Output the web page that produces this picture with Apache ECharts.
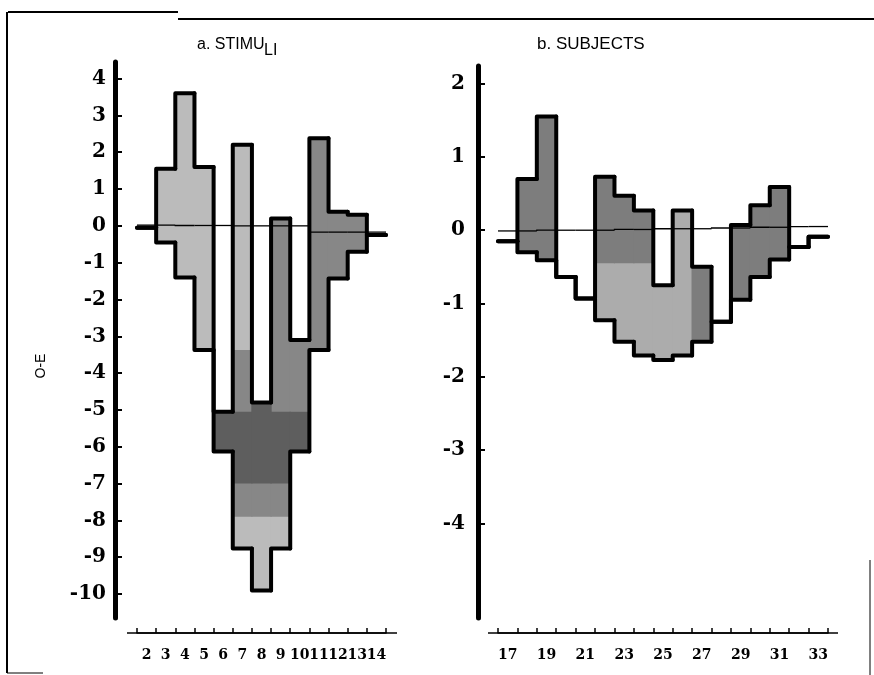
<!DOCTYPE html>
<html><head><meta charset="utf-8">
<script src="https://cdn.jsdelivr.net/npm/echarts@6/dist/echarts.min.js"></script>
<style>html,body{margin:0;padding:0;background:#fff}#c{width:874px;height:675px}</style>
</head><body><div id="c"></div>
<script>
// ---------- Panel a: STIMULI ----------
const catsA = ['2','3','4','5','6','7','8','9','10','11','12','13','14'];
const loA = [-0.05, -0.45, -1.4, -3.37, -6.13, -8.76, -9.9, -8.76, -6.13, -3.37, -1.43, -0.7, -0.25];
const hiA = [-0.05, 1.55, 3.6, 1.6, -5.05, 2.2, -4.8, 0.2, -3.1, 2.38, 0.38, 0.3, -0.25];
const refA = [0.02, 0.02, 0.01, 0.01, 0.01, 0.0, 0.0, 0.0, 0.0, -0.17, -0.17, -0.17, -0.17];
const shadeA1Lo = [null, null, null, null, -6.13, -7.9, -7.9, -7.9, -6.13, -3.37, -1.43, -0.7, null];
const shadeA1Hi = [null, null, null, null, -5.05, -3.37, -4.8, 0.2, -3.1, 2.38, 0.38, 0.3, null];
const shadeA2Lo = [null, null, null, null, -6.13, -7.0, -7.0, -7.0, -6.13, null, null, null, null];
const shadeA2Hi = [null, null, null, null, -5.05, -5.05, -4.8, -5.05, -5.05, null, null, null, null];
const yTicksA = [4, 3, 2, 1, 0, -1, -2, -3, -4, -5, -6, -7, -8, -9, -10];

// ---------- Panel b: SUBJECTS ----------
const catsB = ['17','18','19','20','21','22','23','24','25','26','27','28','29','30','31','32','33'];
const loB = [-0.15, -0.30, -0.41, -0.64, -0.93, -1.23, -1.52, -1.71, -1.77, -1.71, -1.52, -1.25, -0.95, -0.64, -0.40, -0.23, -0.09];
const hiB = [-0.15, 0.70, 1.55, -0.64, -0.93, 0.73, 0.47, 0.27, -0.75, 0.27, -0.50, -1.25, 0.07, 0.34, 0.59, -0.23, -0.09];
const refB = [-0.01, -0.01, 0.0, 0.0, 0.0, 0.0, 0.01, 0.01, 0.02, 0.02, 0.02, 0.03, 0.03, 0.04, 0.04, 0.05, 0.05];
const shadeB1Lo = [null, -0.30, -0.41, null, null, -0.45, -0.45, -0.45, null, null, -1.52, null, -0.95, -0.64, -0.40, null, null];
const shadeB1Hi = [null, 0.70, 1.55, null, null, 0.73, 0.47, 0.27, null, null, -0.50, null, 0.07, 0.34, 0.59, null, null];
const yTicksB = [2, 1, 0, -1, -2, -3, -4];

function fillSeries(ax, lo, hi, color, z) {
  const data = [];
  lo.forEach((l, i) => { if (l != null) data.push([i, l, hi[i]]); });
  return {
    type: 'custom', xAxisIndex: ax, yAxisIndex: ax, z: z, silent: true,
    data: data, encode: { x: 0, y: [1, 2] },
    renderItem(params, api) {
      const i = api.value(0);
      const w = api.size([1, 0])[0];
      const pt = api.coord([i, api.value(2)]);
      const pb = api.coord([i, api.value(1)]);
      return { type: 'rect', shape: { x: pt[0] - w / 2 - 0.6, y: pt[1], width: w + 1.2, height: pb[1] - pt[1] },
        style: { fill: color } };
    }
  };
}

function outlineSeries(ax, lo, hi, width, z) {
  const n = lo.length;
  const data = lo.map((l, i) => [i, l, hi[i], i > 0 ? lo[i - 1] : hi[i], i > 0 ? hi[i - 1] : l, i === n - 1 ? 1 : 0]);
  return {
    type: 'custom', xAxisIndex: ax, yAxisIndex: ax, z: z, silent: true,
    data: data, encode: { x: 0, y: [1, 2] },
    renderItem(params, api) {
      const i = api.value(0), l = api.value(1), h = api.value(2), lp = api.value(3), hp = api.value(4), last = api.value(5);
      const w = api.size([1, 0])[0];
      const cx = api.coord([i, 0])[0];
      const x0 = cx - w / 2, x1 = cx + w / 2;
      const y = v => api.coord([i, v])[1];
      const st = { stroke: '#000', lineWidth: width, fill: null, lineJoin: 'round', lineCap: 'round' };
      const ch = [
        { type: 'polyline', shape: { points: [[x0, y(hp)], [x0, y(h)], [x1, y(h)]] }, style: st },
        { type: 'polyline', shape: { points: [[x0, y(lp)], [x0, y(l)], [x1, y(l)]] }, style: st }
      ];
      if (last) ch.push({ type: 'line', shape: { x1: x1, y1: y(l), x2: x1, y2: y(h) }, style: st });
      return { type: 'group', children: ch };
    }
  };
}

function refSeries(ax, vals, z) {
  const data = vals.map((v, i) => [i, v, i > 0 ? vals[i - 1] : v]);
  return {
    type: 'custom', xAxisIndex: ax, yAxisIndex: ax, z: z, silent: true,
    data: data, encode: { x: 0, y: 1 },
    renderItem(params, api) {
      const i = api.value(0), v = api.value(1), p = api.value(2);
      const w = api.size([1, 0])[0];
      const cx = api.coord([i, 0])[0];
      const x0 = cx - w / 2, x1 = cx + w / 2;
      const y = t => api.coord([i, t])[1];
      return { type: 'polyline', shape: { points: [[x0, y(p)], [x0, y(v)], [x1, y(v)]] },
        style: { stroke: '#000', lineWidth: 1.3, fill: null } };
    }
  };
}

const serifLbl = { color: '#000', fontFamily: '"DejaVu Serif", serif', fontWeight: 'bold' };

function xAx(grid, cats, labelInterval) {
  return {
    gridIndex: grid, type: 'category', data: cats, offset: 15, boundaryGap: true,
    axisLine: { show: true, onZero: false, lineStyle: { color: '#000', width: 1.5 } },
    axisTick: { show: true, inside: true, length: 5, interval: 0, alignWithLabel: false, lineStyle: { color: '#000', width: 1.5 } },
    axisLabel: Object.assign({ interval: labelInterval, fontSize: 14, margin: 15 }, serifLbl),
    splitLine: { show: false }
  };
}
function yAx(grid, min, max, ticks, offset, margin) {
  return {
    gridIndex: grid, type: 'value', min: min, max: max, offset: offset,
    axisLine: { show: true, onZero: false, lineStyle: { color: '#000', width: 5, cap: 'round' } },
    axisTick: { show: true, inside: true, length: 7, customValues: ticks, lineStyle: { color: '#000', width: 2 } },
    axisLabel: Object.assign({ customValues: ticks, fontSize: 20, margin: margin }, serifLbl),
    splitLine: { show: false }
  };
}

const chart = echarts.init(document.getElementById('c'), null, { renderer: 'canvas' });
chart.setOption({
  backgroundColor: '#fff',
  animation: false,
  grid: [
    { left: 137, width: 249, top: 62, height: 556, outerBoundsMode: 'none' },
    { left: 498, width: 330, top: 66, height: 552, outerBoundsMode: 'none' }
  ],
  xAxis: [xAx(0, catsA, 0), xAx(1, catsB, 1)],
  yAxis: [yAx(0, -10.65, 4.45, yTicksA, 22, 9), yAx(1, -5.29, 2.24, yTicksB, 20, 13)],
  series: [
    fillSeries(0, loA, hiA, '#bbbbbb', 1),
    fillSeries(0, shadeA1Lo, shadeA1Hi, '#878787', 2),
    fillSeries(0, shadeA2Lo, shadeA2Hi, '#5e5e5e', 3),
    refSeries(0, refA, 4),
    outlineSeries(0, loA, hiA, 4, 5),
    fillSeries(1, loB, hiB, '#acacac', 1),
    fillSeries(1, shadeB1Lo, shadeB1Hi, '#7d7d7d', 2),
    refSeries(1, refB, 4),
    outlineSeries(1, loB, hiB, 4, 5)
  ],
  graphic: [
    { type: 'text', left: 197, top: 37, style: { text: 'a. STIMU', font: '16px "Liberation Sans", Arial, sans-serif', fill: '#000' } },
    { type: 'text', left: 264, top: 43, style: { text: 'LI', font: '16px "Liberation Sans", Arial, sans-serif', fill: '#000' } },
    { type: 'text', left: 537, top: 36, style: { text: 'b. SUBJECTS', font: '17px "Liberation Sans", Arial, sans-serif', fill: '#000' } },
    { type: 'text', x: 41, y: 366, rotation: Math.PI / 2, style: { text: 'O-E', font: '14px "Liberation Sans", Arial, sans-serif', fill: '#000', align: 'center', verticalAlign: 'middle' } },
    // axis-line overhangs of the original x axes
    { type: 'line', shape: { x1: 127, y1: 633, x2: 397, y2: 633 }, style: { stroke: '#000', lineWidth: 1.5 } },
    { type: 'line', shape: { x1: 488, y1: 633, x2: 838, y2: 633 }, style: { stroke: '#000', lineWidth: 1.5 } },
    // frame remnants
    { type: 'line', shape: { x1: 8, y1: 12, x2: 178, y2: 12 }, style: { stroke: '#000', lineWidth: 2 } },
    { type: 'line', shape: { x1: 178, y1: 19, x2: 874, y2: 19 }, style: { stroke: '#000', lineWidth: 2 } },
    { type: 'line', shape: { x1: 7, y1: 12, x2: 7, y2: 673 }, style: { stroke: '#000', lineWidth: 2 } },
    { type: 'line', shape: { x1: 7, y1: 673, x2: 43, y2: 673 }, style: { stroke: '#000', lineWidth: 1 } },
    { type: 'line', shape: { x1: 870, y1: 560, x2: 870, y2: 675 }, style: { stroke: '#000', lineWidth: 1 } }
  ]
});
</script></body></html>
